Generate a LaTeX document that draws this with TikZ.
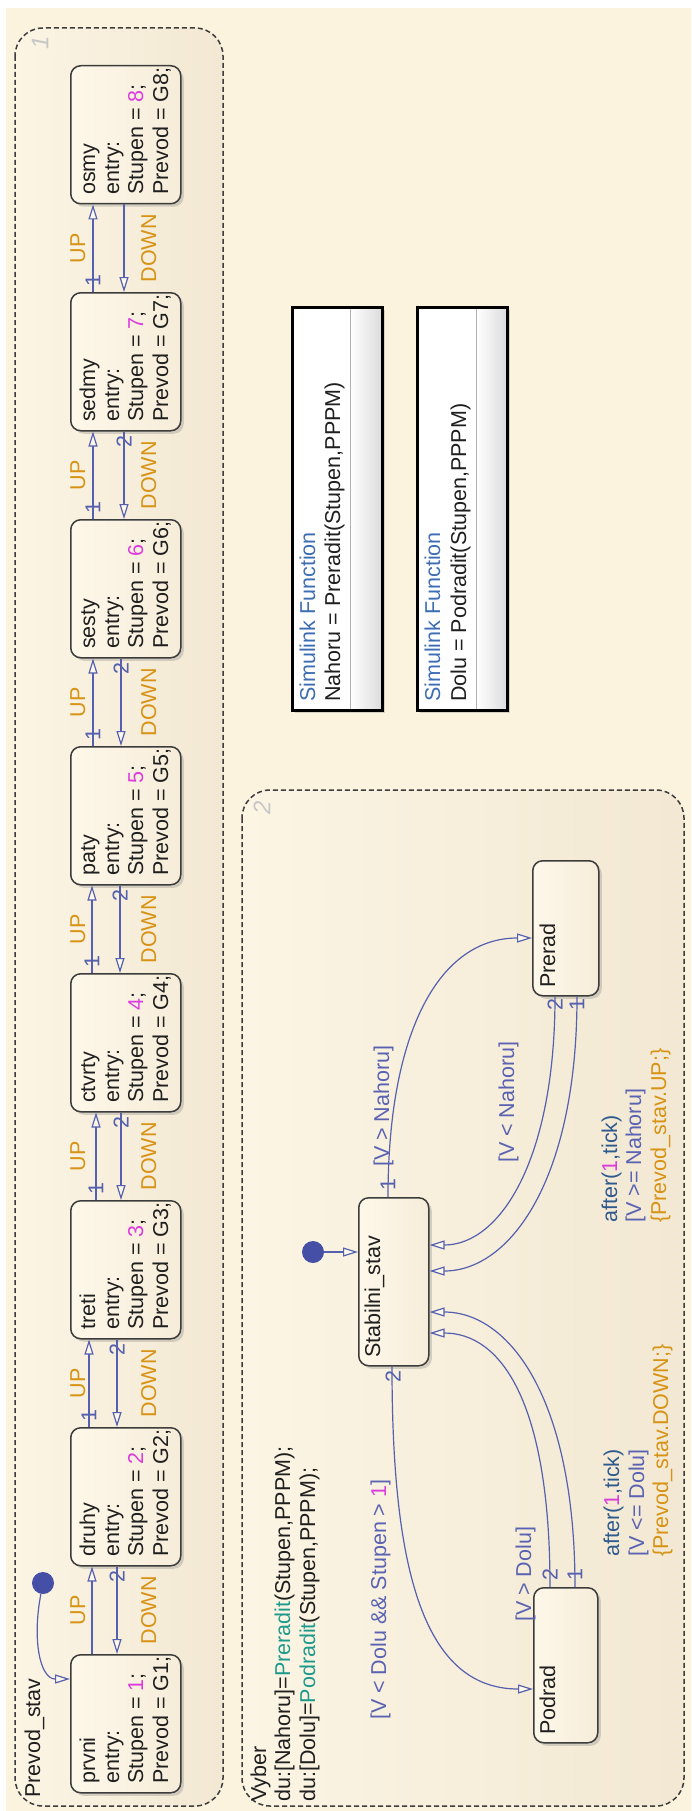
\documentclass[tikz,border=0pt]{standalone}
\usepackage{fontspec}
\setmainfont{Liberation Sans}
\usetikzlibrary{arrows.meta,shadows}
\definecolor{cream}{HTML}{FCF3DE}
\definecolor{boxL}{HTML}{FCF5E4}
\definecolor{boxR}{HTML}{F2E8D3}
\definecolor{stL}{HTML}{FEF8EA}
\definecolor{stR}{HTML}{F6ECD9}
\definecolor{edge}{HTML}{3C3C3C}
\definecolor{trblue}{HTML}{5560AE}
\definecolor{lblblue}{HTML}{5A62B2}
\definecolor{afterblue}{HTML}{2F5A8E}
\definecolor{orng}{HTML}{D89214}
\definecolor{mag}{HTML}{DC3CDC}
\definecolor{tealc}{HTML}{1E9A8C}
\definecolor{simblue}{HTML}{3D6DB3}
\definecolor{dotblue}{HTML}{454FA6}
\newcommand\chartfont{\fontsize{21.5}{24.5}\selectfont}

% one gear state: name, top edge, gear number
\newcommand\gear[3]{%
  \node[state, anchor=north west, minimum width=110pt, minimum height=138pt] (#1) at (70,#2) {};
  \node[rt] (#1-a) at (95,{#2+130}) {#1};
  \node[rt] (#1-b) at (119,{#2+130}) {entry:};
  \node[rt] (#1-c) at (143,{#2+130}) {Stupen = \textcolor{mag}{#3};};
  \node[rt] (#1-d) at (168,{#2+130}) {Prevod = G#3;};
}

\begin{document}
\begin{tikzpicture}[x=1pt,y=-1pt,
  rt/.style={rotate=90, anchor=base west, inner sep=0pt, font=\chartfont, text=black!88},
  rc/.style={rotate=90, anchor=center, inner sep=0pt, font=\chartfont},
  chart/.style={draw=edge, line width=1.5pt, dash pattern=on 5pt off 3pt,
    rounded corners=28pt, left color=boxL, right color=boxR},
  state/.style={draw=edge, line width=1.5pt, rounded corners=10pt, inner sep=0pt,
    left color=stL, right color=stR,
    drop shadow={opacity=0.3, shadow xshift=3pt, shadow yshift=-3pt}},
  simbox/.style={fill=white, inner sep=0pt,
    drop shadow={opacity=0.3, shadow xshift=3pt, shadow yshift=-3pt}},
  tr/.style={draw=trblue, line width=1.2pt, -{Triangle[length=15pt, width=9pt, fill=stL]}},
  num/.style={rc, text=trblue},
  initdot/.style={circle, fill=dotblue, minimum size=22pt, inner sep=0pt},
  par/.style={rc, text=black!22, font=\fontsize{24}{24}\selectfont\itshape}
]
\useasboundingbox (0,0) rectangle (691,1811);
\fill[white] (0,0) rectangle (691,1811);
\fill[cream] (6,8) rectangle (691,1811);

% ---------------- Prevod_stav ----------------
\draw[chart] (15,28) rectangle (223,1806);
\node[par] (p1) at (40,43) {1};
\node[rt] (pslabel) at (40,1798) {Prevod\_stav};

\gear{osmy}{65}{8}
\gear{sedmy}{292}{7}
\gear{sesty}{519}{6}
\gear{paty}{746}{5}
\gear{ctvrty}{973}{4}
\gear{treti}{1200}{3}
\gear{druhy}{1427}{2}
\gear{prvni}{1654}{1}

\foreach \lo/\hi/\u/\d/\one/\two in {
  prvni/druhy/22/47//2,
  druhy/treti/19/47/1/2,
  treti/ctvrty/26/51/1/2,
  ctvrty/paty/22/50/1/2,
  paty/sesty/23/51/1/2,
  sesty/sedmy/23/54/1/2,
  sedmy/osmy/23/54/1/}
{
  \draw[tr] ([xshift=\u pt]\lo.north west) -- ([xshift=\u pt]\hi.south west);
  \draw[tr] ([xshift=\d pt]\hi.south west) -- ([xshift=\d pt]\lo.north west);
  \node[num] (\lo-n1) at ([xshift=\u pt, yshift=11pt]\lo.north west) {\one};
  \node[num] (\hi-n2) at ([xshift=\d pt, yshift=-10pt]\hi.south west) {\two};
  \path (\hi.south) -- (\lo.north) coordinate[midway] (gap);
  \node[rc, text=orng] (\lo-up) at ([xshift=-48pt]gap) {UP};
  \node[rc, text=orng] (\hi-down) at ([xshift=23pt]gap) {DOWN};
}

\node[initdot] (init1) at (43,1583) {};
\draw[tr] (init1) .. controls (32,1640) and (40,1679) .. ([yshift=-25pt]prvni.north west);

% ---------------- Simulink functions ----------------
\node[simbox, anchor=north west, minimum width=90pt, minimum height=403pt] (fn1) at (292,307) {};
\shade[left color=white, right color=black!14] ([xshift=58pt]fn1.north west) rectangle (fn1.south east);
\draw[black!30, line width=1pt] ([xshift=58pt]fn1.north west) -- ([xshift=58pt]fn1.south west);
\draw[black, line width=3pt] (fn1.north west) rectangle (fn1.south east);
\node[rt, text=simblue] (fn1-t) at (315,702) {Simulink Function};
\node[rt] (fn1-s) at (340,702) {Nahoru = Preradit(Stupen,PPPM)};

\node[simbox, anchor=north west, minimum width=90pt, minimum height=403pt] (fn2) at (417,307) {};
\shade[left color=white, right color=black!14] ([xshift=59pt]fn2.north west) rectangle (fn2.south east);
\draw[black!30, line width=1pt] ([xshift=59pt]fn2.north west) -- ([xshift=59pt]fn2.south west);
\draw[black, line width=3pt] (fn2.north west) rectangle (fn2.south east);
\node[rt, text=simblue] (fn2-t) at (440,702) {Simulink Function};
\node[rt] (fn2-s) at (466,702) {Dolu = Podradit(Stupen,PPPM)};

% ---------------- Vyber ----------------
\draw[chart] (242,790) rectangle (684,1806);
\node[par] (p2) at (262,808) {2};
\node[rt] (vy1) at (266,1802) {Vyber};
\node[rt] (vy2) at (290,1802) {du:[Nahoru]=\textcolor{tealc}{Preradit}(Stupen,PPPM);};
\node[rt] (vy3) at (315,1802) {du:[Dolu]=\textcolor{tealc}{Podradit}(Stupen,PPPM);};

\node[state, anchor=north west, minimum width=70pt, minimum height=168pt] (stab) at (358,1197) {};
\node[rt] (stab-t) at (380,1358) {Stabilni\_stav};
\node[state, anchor=north west, minimum width=66pt, minimum height=135pt] (prerad) at (532,860) {};
\node[rt] (prerad-t) at (555,988) {Prerad};
\node[state, anchor=north west, minimum width=64pt, minimum height=155pt] (podrad) at (533,1587) {};
\node[rt] (podrad-t) at (555,1735) {Podrad};

\node[initdot] (init2) at (313,1252) {};
\draw[tr] (init2) -- ([yshift=-55pt]stab.north west);

% Stabilni_stav -> Prerad
\draw[tr] ([xshift=30pt]stab.north west) .. controls (388,1030) and (440,938) .. ([yshift=-78pt]prerad.north west);
\node[num] (sp1) at (388,1185) {1};
\node[rt, text=lblblue] (g1) at (389,1167) {[V > Nahoru]};

% Prerad -> Stabilni_stav
\draw[tr] ([xshift=23pt]prerad.south west) .. controls (555,1160) and (500,1245) .. ([yshift=-48pt]stab.north east);
\draw[tr] ([xshift=45pt]prerad.south west) .. controls (577,1180) and (510,1271) .. ([yshift=-74pt]stab.north east);
\node[num] (ps2) at (555,1005) {2};
\node[num] (ps1) at (577,1005) {1};
\node[rt, text=lblblue] (g2) at (514,1163) {[V < Nahoru]};
\node[rt, text=afterblue] (g3a) at (617,1223) {after(\textcolor{mag}{1},tick)};
\node[rt, text=lblblue] (g3b) at (641,1223) {[V >= Nahoru]};
\node[rt, text=orng] (g3c) at (666,1223) {\{Prevod\_stav.UP;\}};

% Stabilni_stav -> Podrad
\draw[tr] ([xshift=34pt]stab.south west) .. controls (392,1560) and (420,1689) .. ([yshift=-102pt]podrad.north west);
\node[num] (sd2) at (393,1377) {2};
\node[rt, text=lblblue] (g4) at (386,1720) {[V < Dolu \&\& Stupen > \textcolor{mag}{1}]};

% Podrad -> Stabilni_stav
\draw[tr] ([xshift=17pt]podrad.north west) .. controls (550,1400) and (500,1333) .. ([yshift=-136pt]stab.north east);
\draw[tr] ([xshift=42pt]podrad.north west) .. controls (575,1400) and (510,1312) .. ([yshift=-115pt]stab.north east);
\node[num] (ds2) at (550,1575) {2};
\node[num] (ds1) at (575,1575) {1};
\node[rt, text=lblblue] (g5) at (531,1622) {[V > Dolu]};
\node[rt, text=afterblue] (g6a) at (619,1557) {after(\textcolor{mag}{1},tick)};
\node[rt, text=lblblue] (g6b) at (644,1557) {[V <= Dolu]};
\node[rt, text=orng] (g6c) at (668,1557) {\{Prevod\_stav.DOWN;\}};
\end{tikzpicture}
\end{document}
